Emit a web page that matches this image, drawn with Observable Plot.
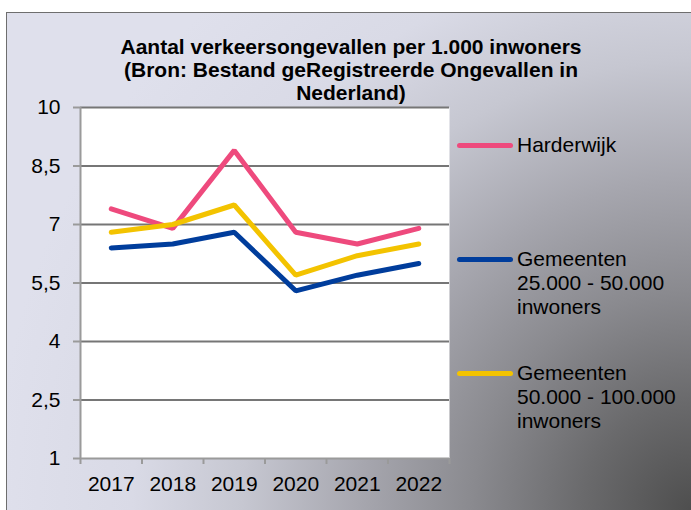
<!DOCTYPE html>
<html>
<head>
<meta charset="utf-8">
<script src="https://cdn.jsdelivr.net/npm/d3@7"></script>
<script src="https://cdn.jsdelivr.net/npm/@observablehq/plot@0.6"></script>
<style>
  html, body { margin: 0; padding: 0; width: 691px; height: 510px; overflow: hidden; background: #fff; }
  body { position: relative; font-family: "Liberation Sans", Arial, sans-serif; }
  #frame {
    position: absolute; left: 6px; top: 12px; width: 700px; height: 520px;
    border-top: 1.5px solid #6e6e6e; border-left: 1.5px solid #6e6e6e;
    background: radial-gradient(circle at 685px 498px, #4e4e4e 0px, #6a6a6c 110px, #8a8a8f 220px, #a6a6ae 330px, #c6c7d1 450px, #d9dae6 560px, #dfe0ec 700px);
  }
  #title {
    position: absolute; left: 0; top: 35px; width: 702px; text-align: center;
    font-weight: bold; font-size: 21px; line-height: 23px; color: #000;
  }
  #chart { position: absolute; left: 0; top: 0; }
  .lg-swatch { position: absolute; left: 457px; width: 56px; height: 5px; border-radius: 3px; }
  .lg-text { position: absolute; left: 517px; font-size: 21px; line-height: 24px; color: #000; white-space: nowrap; }
</style>
</head>
<body>
<div id="frame"></div>
<div id="chart"></div>
<div id="title">Aantal verkeersongevallen per 1.000 inwoners<br>(Bron: Bestand geRegistreerde Ongevallen in<br>Nederland)</div>
<div id="legend"></div>
<script>
// ---- data ----
const years = [2017, 2018, 2019, 2020, 2021, 2022];
const harderwijk = [7.4, 6.9, 8.9, 6.8, 6.5, 6.9];
const gemeenten25_50 = [6.4, 6.5, 6.8, 5.3, 5.7, 6.0];
const gemeenten50_100 = [6.8, 7.0, 7.5, 5.7, 6.2, 6.5];
const seriesNames = ["Harderwijk", "Gemeenten\n25.000 - 50.000\ninwoners", "Gemeenten\n50.000 - 100.000\ninwoners"];
const seriesColors = ["#ee4a7d", "#003d9c", "#f3c300"];
const yTicks = [1, 2.5, 4, 5.5, 7, 8.5, 10];

const allSeries = [harderwijk, gemeenten25_50, gemeenten50_100];
const rows = allSeries.flatMap((vals, s) => years.map((y, i) => ({series: seriesNames[s], year: y, value: vals[i]})));
const boundaries = [years[0] - 0.5, ...years.map(y => y + 0.5)];

const chart = Plot.plot({
  width: 691,
  height: 510,
  marginLeft: 80,
  marginRight: 242,
  marginTop: 107,
  marginBottom: 52,
  style: {background: "transparent", fontFamily: "'Liberation Sans', Arial, sans-serif", fontSize: "21px", overflow: "visible"},
  x: {type: "linear", domain: [boundaries[0], boundaries[boundaries.length - 1]]},
  y: {domain: [yTicks[0], yTicks[yTicks.length - 1]]},
  color: {domain: seriesNames, range: seriesColors},
  marks: [
    Plot.frame({fill: "white", stroke: null}),
    Plot.ruleY(yTicks.slice(1), {stroke: "#767676", strokeWidth: 2}),
    Plot.ruleY([yTicks[0]], {stroke: "#9a9a9a", strokeWidth: 2}),
    Plot.ruleX([boundaries[0]], {stroke: "#9a9a9a", strokeWidth: 2}),
    Plot.axisY({ticks: yTicks, tickSize: 7, tickPadding: 13, stroke: "#9a9a9a", strokeWidth: 2, fill: "#000", fontSize: 21,
      tickFormat: d => String(d).replace(".", ","), label: null}),
    Plot.axisX({ticks: boundaries, tickSize: 6, tickFormat: () => "", stroke: "#9a9a9a", strokeWidth: 2, label: null}),
    Plot.axisX({ticks: years, tickSize: 0, tickPadding: 18, fill: "#000", fontSize: 21, tickFormat: d => String(d), label: null}),
    Plot.line(rows, {x: "year", y: "value", z: "series", stroke: "series", strokeWidth: 5, strokeLinejoin: "miter", strokeLinecap: "round"})
  ]
});
document.getElementById("chart").appendChild(chart);

// ---- legend ----
const legend = document.getElementById("legend");
const legendCenters = [145, 259, 373];
seriesNames.forEach((name, i) => {
  const sw = document.createElement("div");
  sw.className = "lg-swatch";
  sw.style.top = (legendCenters[i] - 2.5) + "px";
  sw.style.background = seriesColors[i];
  legend.appendChild(sw);
  const tx = document.createElement("div");
  tx.className = "lg-text";
  tx.style.top = (legendCenters[i] - 12) + "px";
  tx.innerHTML = name.split("\n").join("<br>");
  legend.appendChild(tx);
});
</script>
</body>
</html>
